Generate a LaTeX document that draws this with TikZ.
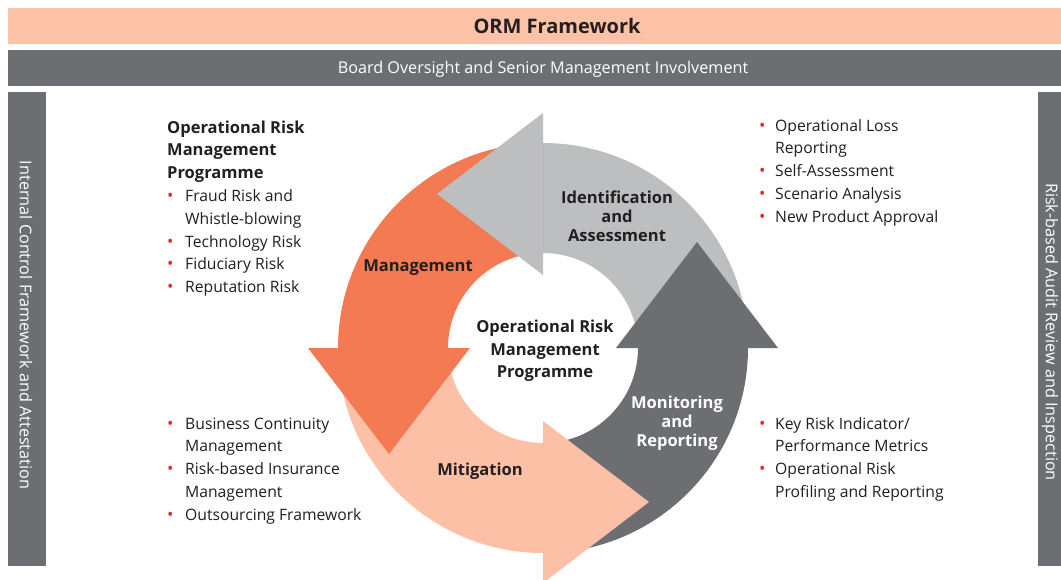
\documentclass[tikz,border=0pt]{standalone}
\usepackage{fontspec}
\setmainfont{Open Sans}
\usepackage{array}
\definecolor{ormpink}{HTML}{FBC2A8}
\definecolor{ormgray}{HTML}{6D6E71}
\definecolor{ormlight}{HTML}{BCBEC0}
\definecolor{ormorange}{HTML}{F37A53}
\definecolor{ormsalmon}{HTML}{FBC0A5}
\definecolor{ormtext}{HTML}{231F20}
\definecolor{ormred}{HTML}{E8262B}
\newcommand{\ormb}{\textcolor{ormred}{\fontsize{17}{17}\selectfont\textbullet}}
\newcommand{\ormfont}{\fontsize{15.7}{22.8}\selectfont}
\begin{document}
\begin{tikzpicture}[x=1pt,y=-1pt,
  bar/.style={fill=#1,draw=none},
  lbl/.style={inner sep=0pt,text=ormtext,font=\bfseries\fontsize{16.5}{19}\selectfont,align=center},
  sidetxt/.style={inner sep=0pt,text=white,font=\fontsize{16.2}{18}\selectfont,rotate=-90},
  listbox/.style={inner sep=0pt,anchor=base west,text=ormtext}
]
\useasboundingbox (0,0) rectangle (1061,579);
\fill[white] (0,0) rectangle (1061,579);
% bars
\fill[bar=ormpink] (8,8) rectangle (1061,44);
\fill[bar=ormgray] (8,50) rectangle (1061,86);
\fill[bar=ormgray] (8,92) rectangle (46,566);
\fill[bar=ormgray] (1038,92) rectangle (1061,566);
\node[inner sep=0pt,text=ormtext,font=\bfseries\fontsize{20}{22}\selectfont] (title) at (557,26) {ORM Framework};
\node[inner sep=0pt,text=white,font=\fontsize{16.2}{18}\selectfont] (board) at (543,69) {Board Oversight and Senior Management Involvement};
\node[sidetxt] (leftside) at (26,325) {Internal Control Framework and Attestation};
\node[sidetxt] (rightside) at (1050,332) {Risk-based Audit Review and Inspection};
% ring
\begin{scope}[shift={(543,348)},y=1pt]
  \fill[ormlight] (0:205) arc[start angle=0,end angle=90,radius=205] -- (90:95) arc[start angle=90,end angle=0,radius=95] -- cycle;
  \fill[ormorange] (90:205) arc[start angle=90,end angle=180,radius=205] -- (180:95) arc[start angle=180,end angle=90,radius=95] -- cycle;
  \fill[ormsalmon] (180:205) arc[start angle=180,end angle=270,radius=205] -- (270:95) arc[start angle=270,end angle=180,radius=95] -- cycle;
  \fill[ormgray] (270:205) arc[start angle=270,end angle=360,radius=205] -- (0:95) arc[start angle=360,end angle=270,radius=95] -- cycle;
  % heads
  \fill[ormlight] (0,73) -- (0,235) -- (-106,154) -- cycle;
  \fill[ormorange] (-73,0) -- (-235,0) -- (-154,-106) -- cycle;
  \fill[ormsalmon] (0,-73) -- (0,-235) -- (106,-154) -- cycle;
  \fill[ormgray] (73,0) -- (235,0) -- (154,106) -- cycle;
\end{scope}
% arrow labels
\node[lbl] (ident) at (617,216) {Identification\\and\\Assessment};
\node[lbl] (mgmt) at (418,268) {Management};
\node[lbl] (mitig) at (480,471) {Mitigation};
\node[lbl,text=white] (monit) at (677,423) {Monitoring\\and\\Reporting};
\node[lbl,font=\bfseries\fontsize{16.5}{22.5}\selectfont] (center) at (545,351) {Operational Risk\\Management\\Programme};
% lists
\node[listbox] (tl) at (167,133) {\ormfont\begin{tabular}[t]{@{}p{14pt}@{\hspace{4pt}}l@{}}
\multicolumn{2}{@{}l@{}}{\bfseries\fontsize{16.5}{22.8}\selectfont Operational Risk}\\
\multicolumn{2}{@{}l@{}}{\bfseries\fontsize{16.5}{22.8}\selectfont Management}\\
\multicolumn{2}{@{}l@{}}{\bfseries\fontsize{16.5}{22.8}\selectfont Programme}\\
\ormb & Fraud Risk and\\
 & Whistle-blowing\\
\ormb & Technology Risk\\
\ormb & Fiduciary Risk\\
\ormb & Reputation Risk
\end{tabular}};
\node[listbox] (tr) at (759,131) {\ormfont\begin{tabular}[t]{@{}p{12pt}@{\hspace{4pt}}l@{}}
\ormb & Operational Loss\\
 & Reporting\\
\ormb & Self-Assessment\\
\ormb & Scenario Analysis\\
\ormb & New Product Approval
\end{tabular}};
\node[listbox] (bl) at (167,429) {\ormfont\begin{tabular}[t]{@{}p{14pt}@{\hspace{4pt}}l@{}}
\ormb & Business Continuity\\
 & Management\\
\ormb & Risk-based Insurance\\
 & Management\\
\ormb & Outsourcing Framework
\end{tabular}};
\node[listbox] (br) at (759,429) {\ormfont\begin{tabular}[t]{@{}p{12pt}@{\hspace{4pt}}l@{}}
\ormb & Key Risk Indicator/\\
 & Performance Metrics\\
\ormb & Operational Risk\\
 & Profiling and Reporting
\end{tabular}};
\end{tikzpicture}
\end{document}
